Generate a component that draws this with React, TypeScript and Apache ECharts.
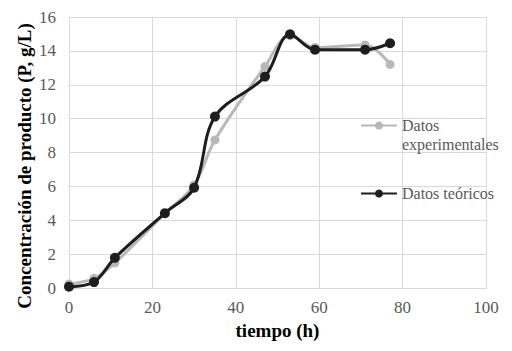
import React, { useEffect, useRef } from "react";
import * as echarts from "echarts";

const timeHours = [0, 6, 11, 23, 30, 35, 47, 53, 59, 71, 77];
const experimental = [0.24, 0.57, 1.48, 4.4, 6.08, 8.74, 13.08, 14.9, 14.2, 14.35, 13.2];
const theoretical = [0.08, 0.35, 1.78, 4.42, 5.92, 10.12, 12.48, 14.98, 14.07, 14.07, 14.45];

const seriesNames = ["Datos experimentales", "Datos teóricos"];
const xAxisTitle = "tiempo (h)";
const yAxisTitle = "Concentración de producto (P, g/L)";

const FONT = "Liberation Serif";
const GRID_COLOR = "#d9d9d9";
const TEXT_COLOR = "#595959";

export default function App() {
  const ref = useRef<HTMLDivElement>(null);

  useEffect(() => {
    if (!ref.current) return;
    const chart = echarts.init(ref.current, undefined, { renderer: "svg" });
    const pairs = (ys: number[]) => timeHours.map((x, i) => [x, ys[i]]);
    chart.setOption({
      animation: false,
      backgroundColor: "#ffffff",
      textStyle: { fontFamily: FONT },
      grid: { left: 69, right: 26, top: 17, bottom: 63, containLabel: false },
      xAxis: {
        type: "value",
        min: 0,
        max: 100,
        interval: 20,
        name: xAxisTitle,
        nameLocation: "middle",
        nameGap: 32,
        nameTextStyle: { fontFamily: FONT, fontWeight: "bold", fontSize: 19, color: "#000" },
        axisLine: { show: true, lineStyle: { color: GRID_COLOR, width: 1 } },
        axisTick: { show: false },
        axisLabel: { fontFamily: FONT, fontSize: 17, color: TEXT_COLOR, margin: 11 },
        splitLine: { show: true, lineStyle: { color: GRID_COLOR, width: 1 } },
      },
      yAxis: {
        type: "value",
        min: 0,
        max: 16,
        interval: 2,
        name: yAxisTitle,
        nameLocation: "middle",
        nameGap: 35,
        nameMoveOverlap: false,
        nameTextStyle: {
          fontFamily: FONT,
          fontWeight: "bold",
          fontSize: 19,
          color: "#000",
          padding: [0, 27, 0, 0],
        },
        axisLine: { show: true, lineStyle: { color: GRID_COLOR, width: 1 } },
        axisTick: { show: false },
        axisLabel: { fontFamily: FONT, fontSize: 17, color: TEXT_COLOR, margin: 13 },
        splitLine: { show: true, lineStyle: { color: GRID_COLOR, width: 1 } },
      },
      legend: [
        {
          data: [seriesNames[0]],
          orient: "vertical",
          left: 360,
          top: 97,
          padding: 0,
          itemWidth: 36,
          itemHeight: 10,
          formatter: () => "\nDatos\nexperimentales",
          textStyle: {
            fontFamily: FONT,
            fontSize: 16,
            color: TEXT_COLOR,
            lineHeight: 19,
          },
        },
        {
          data: [seriesNames[1]],
          orient: "vertical",
          left: 360,
          top: 184,
          padding: 0,
          itemWidth: 36,
          itemHeight: 10,
          textStyle: { fontFamily: FONT, fontSize: 16, color: TEXT_COLOR, lineHeight: 19 },
        },
      ],
      series: [
        {
          name: seriesNames[0],
          type: "line",
          data: pairs(experimental),
          smooth: 0.35,
          symbol: "circle",
          symbolSize: 9,
          lineStyle: { color: "#b8b8b8", width: 3 },
          itemStyle: { color: "#b8b8b8" },
          z: 2,
        },
        {
          name: seriesNames[1],
          type: "line",
          data: pairs(theoretical),
          smooth: 0.35,
          symbol: "circle",
          symbolSize: 10,
          lineStyle: { color: "#1e1e1e", width: 3 },
          itemStyle: { color: "#1e1e1e" },
          z: 3,
        },
      ],
    });
    return () => chart.dispose();
  }, []);

  return <div ref={ref} style={{ width: 512, height: 351, position: "absolute", left: 0, top: 0 }} />;
}
